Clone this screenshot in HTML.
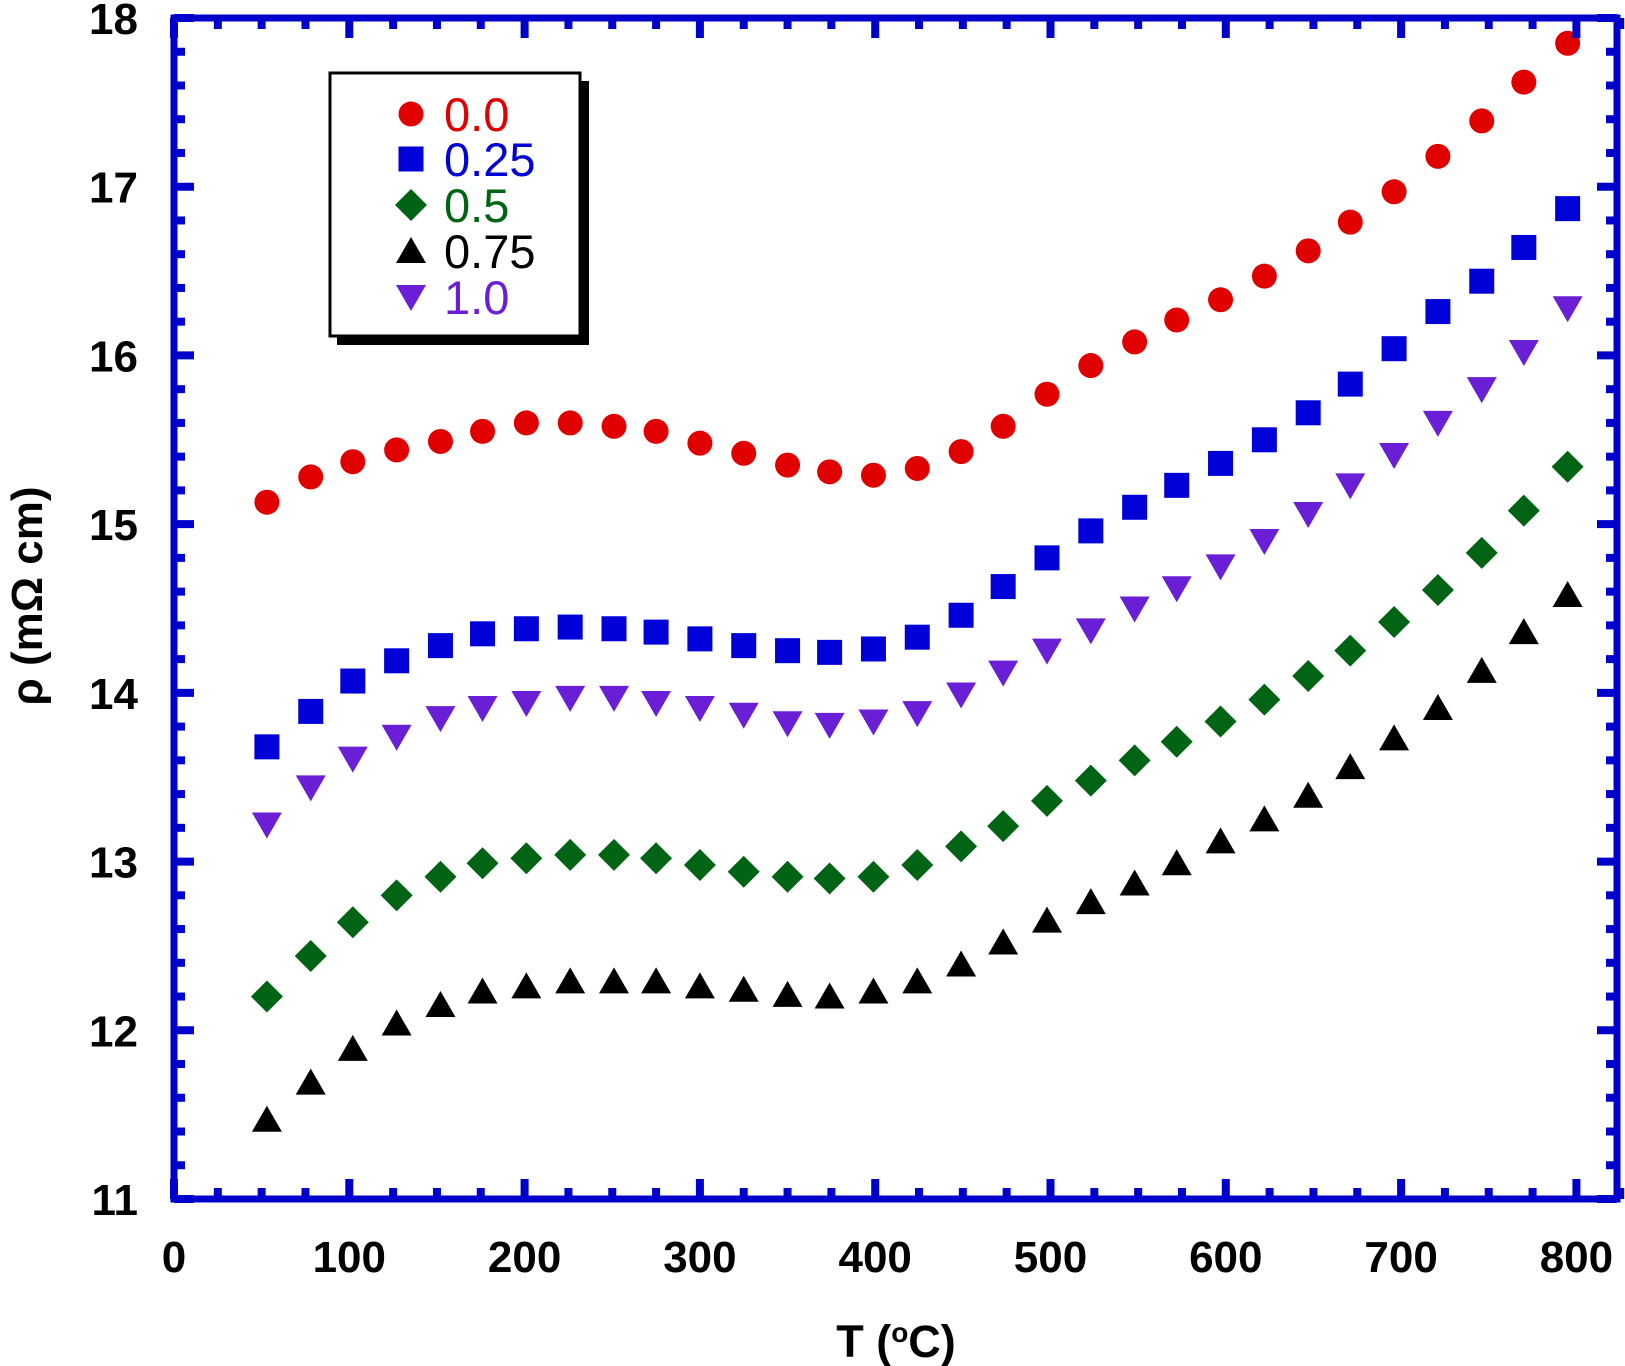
<!DOCTYPE html>
<html><head><meta charset="utf-8"><style>
html,body{margin:0;padding:0;background:#fff;}
svg{display:block;font-family:"Liberation Sans",sans-serif;}
</style></head><body>
<svg id="chart" width="1625" height="1366" viewBox="0 0 1625 1366" xmlns="http://www.w3.org/2000/svg">
<g id="marks"></g>
<g id="axes"></g>
<g id="legend">
  <rect x="337" y="81" width="252" height="264" fill="#000"/>
  <rect x="330" y="73" width="250" height="263" fill="#fff" stroke="#000" stroke-width="3"/>
</g>
<text x="896" y="1357" font-size="45" font-weight="bold" text-anchor="middle">T (<tspan font-size="28" dy="-15">o</tspan><tspan dy="15">C)</tspan></text>
<text transform="translate(42,596) rotate(-90)" font-size="44" font-weight="bold" text-anchor="middle">ρ (mΩ cm)</text>
</svg>
<script>
const temps=[53,78,102,127,152,176,201,226,251,275,300,325,350,374,399,424,449,473,498,523,548,572,597,622,647,671,696,721,746,770,795];
const rho00=[15.13,15.28,15.37,15.44,15.49,15.55,15.60,15.60,15.58,15.55,15.48,15.42,15.35,15.31,15.29,15.33,15.43,15.58,15.77,15.94,16.08,16.21,16.33,16.47,16.62,16.79,16.97,17.18,17.39,17.62,17.85];
const rho025=[13.68,13.89,14.07,14.19,14.28,14.35,14.38,14.39,14.38,14.36,14.32,14.28,14.25,14.24,14.26,14.33,14.46,14.63,14.80,14.96,15.10,15.23,15.36,15.50,15.66,15.83,16.04,16.26,16.44,16.64,16.87];
const rho05=[12.20,12.44,12.64,12.80,12.91,12.99,13.02,13.04,13.04,13.02,12.98,12.94,12.91,12.90,12.91,12.98,13.09,13.21,13.36,13.48,13.60,13.71,13.83,13.96,14.10,14.25,14.42,14.61,14.83,15.08,15.34];
const rho075=[11.47,11.69,11.89,12.04,12.15,12.23,12.26,12.29,12.29,12.29,12.26,12.24,12.21,12.20,12.23,12.29,12.39,12.52,12.65,12.76,12.87,12.99,13.12,13.25,13.39,13.56,13.73,13.91,14.13,14.36,14.58];
const rho10=[13.22,13.44,13.61,13.74,13.85,13.91,13.94,13.97,13.97,13.94,13.91,13.87,13.82,13.81,13.83,13.88,13.99,14.12,14.25,14.37,14.50,14.62,14.75,14.90,15.06,15.23,15.41,15.60,15.80,16.02,16.28];
const xTicks=[0,100,200,300,400,500,600,700,800];
const yTicks=[11,12,13,14,15,16,17,18];
const legendLabels=["0.0","0.25","0.5","0.75","1.0"];

const L=174,R=1617,T=18,B=1199;
const X100=175.3;
function sx(v){return L+v*X100/100;}
function sy(v){return B-(v-11)*(B-T)/7;}
const NS="http://www.w3.org/2000/svg";
function mk(tag,attrs,parent){const e=document.createElementNS(NS,tag);for(const k in attrs)e.setAttribute(k,attrs[k]);parent.appendChild(e);return e;}
function marker(shape,x,y,color,parent){
  let e;
  if(shape==="circle")e=mk("circle",{cx:x,cy:y,r:12.5,fill:color},parent);
  else if(shape==="square")e=mk("rect",{x:x-12.5,y:y-12.5,width:25,height:25,fill:color},parent);
  else if(shape==="diamond")e=mk("polygon",{points:`${x},${y-16} ${x+16},${y} ${x},${y+16} ${x-16},${y}`,fill:color},parent);
  else if(shape==="up")e=mk("polygon",{points:`${x},${y-14} ${x+15},${y+12} ${x-15},${y+12}`,fill:color},parent);
  else e=mk("polygon",{points:`${x-15},${y-12} ${x+15},${y-12} ${x},${y+14}`,fill:color},parent);
  return e;
}
const series=[
 {vals:rho00,shape:"circle",color:"#e00000",name:"series-0-0"},
 {vals:rho025,shape:"square",color:"#0000d8",name:"series-0-25"},
 {vals:rho05,shape:"diamond",color:"#006414",name:"series-0-5"},
 {vals:rho075,shape:"up",color:"#000000",name:"series-0-75"},
 {vals:rho10,shape:"down",color:"#6a1fd6",name:"series-1-0"}];
const marks=document.getElementById("marks");
series.forEach(s=>{
  const g=mk("g",{},marks);
  
  
  s.vals.forEach((v,i)=>{
    const m=marker(s.shape,sx(temps[i]),sy(v),s.color,g);
    
    
  });
});
const axes=document.getElementById("axes");
const ac="#0000cc";
const frame=mk("rect",{x:L,y:T,width:R-L,height:B-T,fill:"none",stroke:ac,"stroke-width":7},axes);


for(let v=0;v<=825;v+=25){
  const x=sx(v);const len=(v%100===0)?20:11;
  mk("line",{x1:x,y1:B,x2:x,y2:B-len,stroke:ac,"stroke-width":8},axes);
  mk("line",{x1:x,y1:T,x2:x,y2:T+len,stroke:ac,"stroke-width":8},axes);
}
for(let k=0;k<=35;k++){
  const v=11+k*0.2;const y=sy(v);const len=(k%5===0)?20:11;
  mk("line",{x1:L,y1:y,x2:L+len,y2:y,stroke:ac,"stroke-width":8},axes);
  mk("line",{x1:R,y1:y,x2:R-len,y2:y,stroke:ac,"stroke-width":8},axes);
}
xTicks.forEach(v=>{
  const t=mk("text",{x:sx(v),y:1272,"font-size":44,"font-weight":"bold","text-anchor":"middle"},axes);
  t.textContent=v;
  
  
});
yTicks.forEach(v=>{
  const t=mk("text",{x:138,y:sy(v)+16,"font-size":44,"font-weight":"bold","text-anchor":"end"},axes);
  t.textContent=v;
  
  
});
const legend=document.getElementById("legend");
const rowsY=[114,159,205,251,297];
series.forEach((s,i)=>{
  const g=mk("g",{},legend);
  
  
  marker(s.shape,411,rowsY[i],s.color,g);
  const t=mk("text",{x:444,y:rowsY[i]+17,"font-size":47,fill:s.color},g);
  t.textContent=legendLabels[i];
});
</script>
</body></html>
